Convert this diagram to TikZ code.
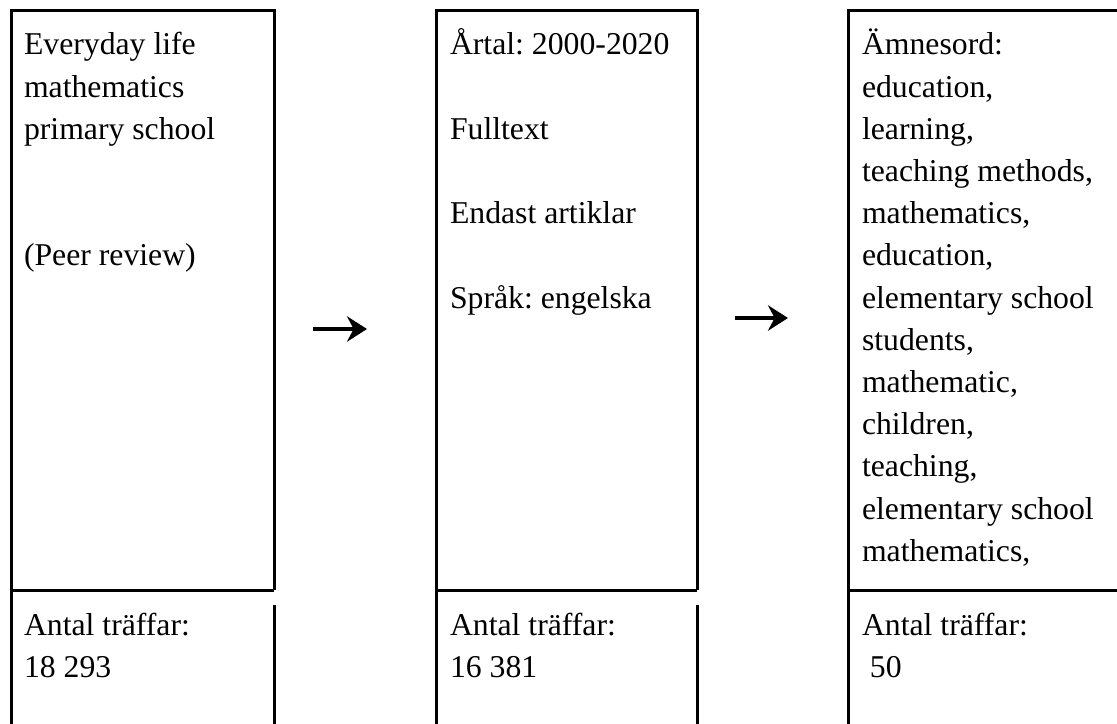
\documentclass[tikz,border=0pt]{standalone}
\usepackage{fontspec}
\setmainfont{Liberation Serif}
\usetikzlibrary{arrows.meta}
\frenchspacing
\tikzset{
  frame/.style={line width=2.25pt, line join=miter, line cap=butt},
  txt/.style={anchor=base west, inner sep=0pt, outer sep=0pt, font=\fontsize{23.8}{31.65}\selectfont\frenchspacing},
  arr/.style={line width=3pt, -{Stealth[length=15pt, width=19pt, inset=5pt]}}
}
\newcommand{\col}[1]{\begin{tabular}[t]{@{}l@{}}#1\end{tabular}}
\begin{document}
\begin{tikzpicture}[x=0.75pt, y=-0.75pt]
\useasboundingbox (0,0) rectangle (1117,724);
% column 1
\draw[frame] (11,724) -- (11,11) -- (274,11) -- (274,590);
\draw[frame] (11,590) -- (274,590);
\draw[frame] (274,605) -- (274,724);
% column 2
\draw[frame] (436,724) -- (436,11) -- (697,11) -- (697,590);
\draw[frame] (436,590) -- (697,590);
\draw[frame] (697,605) -- (697,724);
% column 3
\draw[frame] (848,724) -- (848,11) -- (1120,11);
\draw[frame] (848,590) -- (1120,590);
% texts
\node[txt] (t1) at (24,55) {\col{Everyday life\\ mathematics\\ primary school\\ \\ \\ (Peer review)}};
\node[txt] (t2) at (450,55) {\col{Årtal: 2000-2020\\ \\ Fulltext\\ \\ Endast artiklar\\ \\ Språk: engelska}};
\node[txt] (t3) at (862,55) {\col{Ämnesord:\\ education,\\ learning,\\ teaching methods,\\ mathematics,\\ education,\\ elementary school\\ students,\\ mathematic,\\ children,\\ teaching,\\ elementary school\\ mathematics,}};
\node[txt] (b1) at (24,635) {\col{Antal träffar:\\ 18 293}};
\node[txt] (b2) at (450,635) {\col{Antal träffar:\\ 16 381}};
\node[txt] (b3) at (862,635) {\col{Antal träffar:\\ \ 50}};
% arrows
\coordinate (a1s) at (313,329);
\coordinate (a1e) at (367,329);
\coordinate (a2s) at (735,318);
\coordinate (a2e) at (788,318);
\draw[arr] (a1s) -- (a1e);
\draw[arr] (a2s) -- (a2e);
\end{tikzpicture}
\end{document}
